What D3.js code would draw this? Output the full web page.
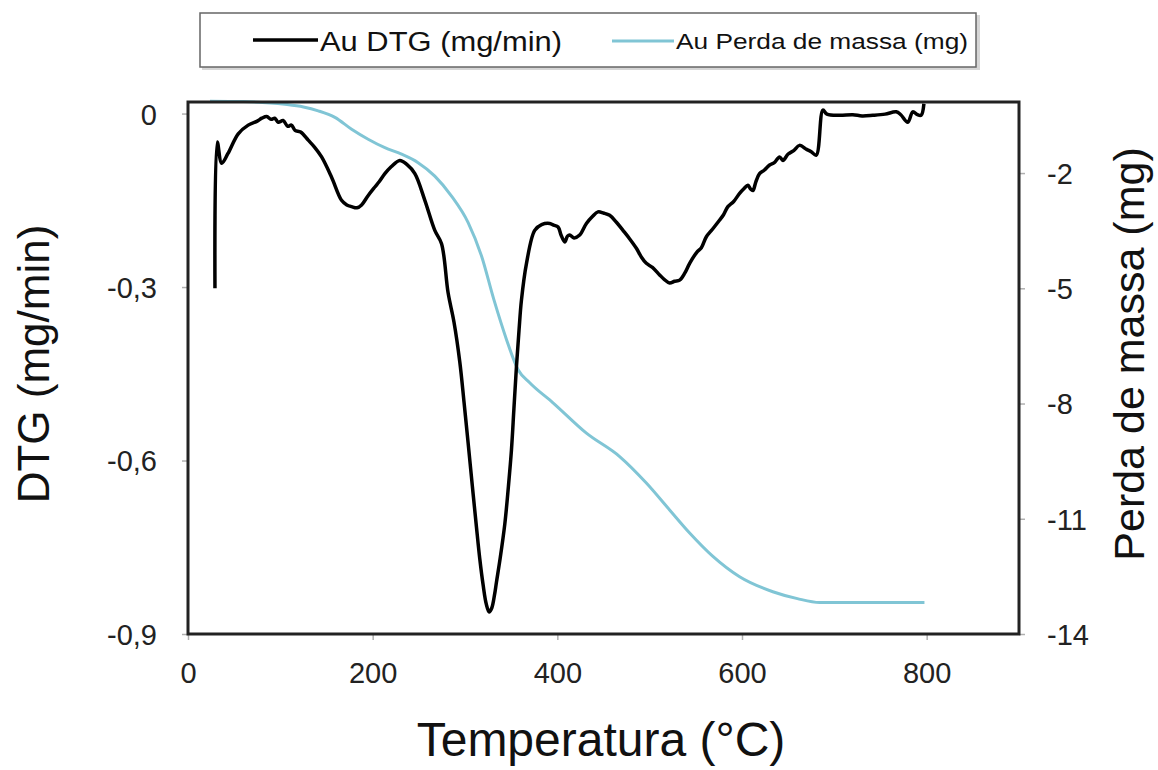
<!DOCTYPE html>
<html><head><meta charset="utf-8">
<script src="https://cdn.jsdelivr.net/npm/d3@7"></script>
<style>
body{margin:0;background:#fff;}
svg{display:block;font-family:"Liberation Sans",Arial,sans-serif;}
</style></head>
<body>
<svg id="chart" width="1158" height="770"></svg>
<script>
// Temperature (°C) and DTG (mg/min)
const dtgTemp = [29.2,31.7,36.5,43.3,54.4,65.2,75,80,85.2,90,94,97.7,103,108,112,115.9,122,130.2,137,144.7,155.5,166.3,172,177.2,183,188,195,202.4,207,213.2,220,229.4,237,245.7,256.5,267.3,274.6,281.7,288,294.4,299,303.4,308,312.4,316,319.6,323,326.1,329,332,334.1,338,343.1,347,350.3,353,355.7,358.5,361.1,366.6,375.5,383,391.8,396,400.8,404,408,411,413.4,418,424.2,431.5,438,444,450,456.7,464,471.1,478,485.6,491,496.4,503,510.8,516,521.6,527,532.5,538,543.3,551,556,561.4,568,575.8,580,584.7,591,597.4,602,606.4,609,611.8,615,619,624,629.9,635,640.7,644.3,650,656,662.3,670,675,680.4,687.6,692,705.6,720,730,741.7,755,767,772,779.5,785,790,794,797];
const dtgValues = [-0.302,-0.049,-0.086,-0.069,-0.035,-0.020,-0.013,-0.008,-0.005,-0.010,-0.008,-0.015,-0.012,-0.022,-0.020,-0.029,-0.032,-0.046,-0.058,-0.075,-0.110,-0.150,-0.158,-0.161,-0.163,-0.158,-0.142,-0.127,-0.118,-0.104,-0.092,-0.081,-0.088,-0.104,-0.150,-0.202,-0.225,-0.310,-0.360,-0.430,-0.500,-0.570,-0.645,-0.715,-0.770,-0.815,-0.848,-0.862,-0.855,-0.832,-0.810,-0.770,-0.710,-0.645,-0.582,-0.510,-0.438,-0.375,-0.323,-0.259,-0.202,-0.192,-0.190,-0.193,-0.196,-0.210,-0.222,-0.212,-0.210,-0.215,-0.210,-0.190,-0.178,-0.170,-0.172,-0.176,-0.188,-0.202,-0.216,-0.233,-0.248,-0.259,-0.266,-0.279,-0.287,-0.293,-0.290,-0.288,-0.276,-0.259,-0.240,-0.232,-0.213,-0.200,-0.184,-0.175,-0.161,-0.152,-0.138,-0.130,-0.124,-0.130,-0.133,-0.118,-0.104,-0.098,-0.089,-0.085,-0.075,-0.081,-0.070,-0.064,-0.055,-0.062,-0.066,-0.072,0.006,-0.001,-0.003,-0.002,-0.004,-0.003,-0.001,0.003,-0.002,-0.015,0.003,-0.002,-0.003,0.017];

// Temperature (°C) and mass loss (mg)
const massTemp = [23.8,60,105,125,141,159.1,177.2,195.1,213.2,231.3,249.2,267.3,285.4,303.4,317.9,331.2,344.9,357.5,370.1,395.3,431.5,467.5,496.4,521.6,543.3,568.5,597.4,633.4,660,684,797.6];
const massValues = [-0.13,-0.14,-0.21,-0.28,-0.38,-0.55,-0.86,-1.12,-1.34,-1.51,-1.73,-2.08,-2.60,-3.29,-4.16,-5.29,-6.33,-7.12,-7.46,-7.98,-8.77,-9.38,-10.07,-10.77,-11.37,-11.98,-12.51,-12.90,-13.08,-13.18,-13.18];

const xTicks = [0,200,400,600,800];
const leftTicks = [0,-0.3,-0.6,-0.9];
const rightTicks = [-2,-5,-8,-11,-14];
const legendLabels = ["Au DTG (mg/min)","Au Perda de massa (mg)"];

const svg = d3.select("#chart");
const L=188, R=1019, T=102, B=634;
const x = d3.scaleLinear().domain([0,900]).range([L,R]);
const yL = d3.scaleLinear().domain([-0.9,0.02]).range([B,T]);
const yR = d3.scaleLinear().domain([-14,-0.15]).range([B,T]);

const fmtComma = d => d===0 ? "0" : d3.format(".1f")(d).replace(".",",").replace("−","-");

// axes
const gx = svg.append("g").attr("transform",`translate(0,${B})`)
  .call(d3.axisBottom(x).tickValues(xTicks).tickSize(6).tickPadding(22).tickFormat(d3.format("d")));
const gl = svg.append("g").attr("transform",`translate(${L},0)`)
  .call(d3.axisLeft(yL).tickValues(leftTicks).tickSize(6).tickPadding(25).tickFormat(fmtComma));
const gr = svg.append("g").attr("transform",`translate(${R},0)`)
  .call(d3.axisRight(yR).tickValues(rightTicks).tickSize(6).tickPadding(22).tickFormat(d=>String(d).replace("−","-")));
[gx,gl,gr].forEach(g=>{
  g.select(".domain").remove();
  g.selectAll(".tick line").attr("stroke","#b0b0b0").attr("stroke-width",1.5);
  g.selectAll(".tick text").attr("fill","#222").style("font-size","29px")
   .style("font-family",'"Liberation Sans",Arial,sans-serif');
});
gl.selectAll(".tick text").attr("dy","0.36em");
gr.selectAll(".tick text").attr("dy","0.36em");
gx.selectAll(".tick text").attr("dy","0.72em");

// lines
const dtgData = dtgTemp.map((t,i)=>[t,dtgValues[i]]);
const massData = massTemp.map((t,i)=>[t,massValues[i]]);

svg.append("path").datum(massData)
  .attr("fill","none").attr("stroke","#80c5d5").attr("stroke-width",3)
  .attr("stroke-linejoin","round")
  .attr("d",d3.line().x(d=>x(d[0])).y(d=>yR(d[1])).curve(d3.curveMonotoneX));

svg.append("path").datum(dtgData)
  .attr("fill","none").attr("stroke","#000").attr("stroke-width",3.5)
  .attr("stroke-linejoin","round")
  .attr("d",d3.line().x(d=>x(d[0])).y(d=>yL(d[1])).curve(d3.curveCatmullRom.alpha(0.5)));

// frame
svg.append("rect").attr("x",L).attr("y",T).attr("width",R-L).attr("height",B-T)
  .attr("fill","none").attr("stroke","#222").attr("stroke-width",3);

// axis titles
svg.append("text").attr("x",601).attr("y",756).attr("text-anchor","middle")
  .attr("fill","#111").style("font-size","48px").text("Temperatura (°C)");
svg.append("text").attr("transform","translate(49,364) rotate(-90)").attr("text-anchor","middle")
  .attr("fill","#111").style("font-size","44px").text("DTG (mg/min)");
svg.append("text").attr("transform","translate(1144,354) rotate(-90)").attr("text-anchor","middle")
  .attr("fill","#111").style("font-size","43px").text("Perda de massa (mg)");

// legend
const lg = svg.append("g");
lg.append("rect").attr("x",202).attr("y",15).attr("width",778).attr("height",55)
  .attr("fill","#bbb").attr("opacity",0.6);
lg.append("rect").attr("x",200).attr("y",13).attr("width",776).attr("height",54)
  .attr("fill","#fff").attr("stroke","#666").attr("stroke-width",1.5);
lg.append("line").attr("x1",253).attr("x2",318).attr("y1",40).attr("y2",40)
  .attr("stroke","#000").attr("stroke-width",3.5);
lg.append("text").attr("x",320).attr("y",51).attr("fill","#111")
  .style("font-size","27px").attr("textLength",242).attr("lengthAdjust","spacingAndGlyphs")
  .text(legendLabels[0]);
lg.append("line").attr("x1",612).attr("x2",674).attr("y1",41).attr("y2",41)
  .attr("stroke","#80c5d5").attr("stroke-width",3);
lg.append("text").attr("x",676).attr("y",49).attr("fill","#111")
  .style("font-size","22px").attr("textLength",292).attr("lengthAdjust","spacingAndGlyphs")
  .text(legendLabels[1]);
</script>
</body></html>
